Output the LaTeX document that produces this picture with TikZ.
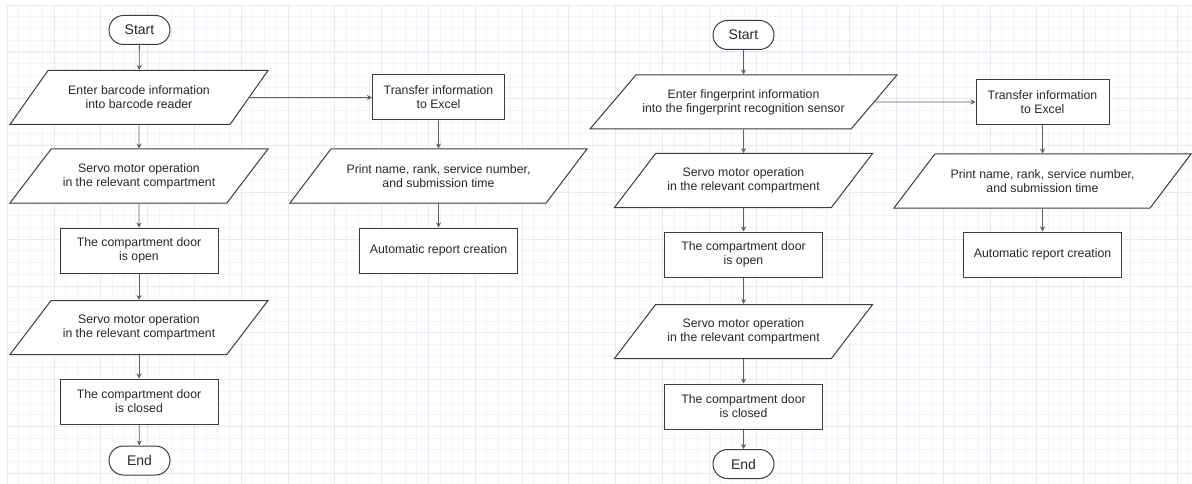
\documentclass[tikz,border=0pt]{standalone}
\usepackage{fontspec}
\setmainfont{Liberation Sans}
\usetikzlibrary{shapes.geometric,arrows.meta}
\definecolor{gridminor}{RGB}{243,243,250}
\definecolor{gridmajor}{RGB}{233,233,246}
\definecolor{shapeline}{RGB}{60,60,60}
\definecolor{flowline}{RGB}{95,95,95}
\definecolor{labeltext}{RGB}{40,40,40}
\begin{document}
\begin{tikzpicture}[
    x=1pt, y=-1pt,
    term/.style={rectangle, rounded corners=14.5pt, draw=shapeline, fill=white, line width=1pt, minimum width=61pt, minimum height=29pt, font=\fontsize{14}{16}\selectfont, text=labeltext},
    proc/.style={rectangle, draw=shapeline, fill=white, line width=1pt, minimum width=158pt, minimum height=45pt, align=center, font=\fontsize{12.3}{14}\selectfont, text=labeltext},
    io/.style={trapezium, trapezium left angle=38, trapezium right angle=142, trapezium stretches body, draw=shapeline, fill=white, line width=1pt, minimum width=258pt, minimum height=54pt, inner xsep=0pt, align=center, font=\fontsize{12.3}{14}\selectfont, text=labeltext},
    wideio/.style={io, trapezium left angle=36, trapezium right angle=144, minimum width=297pt},
    flow/.style={-{Stealth[length=5pt, width=5pt]}, draw=flowline, line width=0.8pt},
]
\useasboundingbox (0,0) rectangle (1192,484);
% background grid
\foreach \gx in {0,...,101} \draw[gridminor, line width=0.5pt] ({7+11.7*\gx},5) -- ({7+11.7*\gx},484);
\foreach \gy in {0,...,41} \draw[gridminor, line width=0.5pt] (7,{5+11.7*\gy}) -- (1192,{5+11.7*\gy});
\foreach \gx in {0,...,25} \draw[gridmajor, line width=0.6pt] ({7+46.8*\gx},5) -- ({7+46.8*\gx},484);
\foreach \gy in {0,...,10} \draw[gridmajor, line width=0.6pt] (7,{5+46.8*\gy}) -- (1192,{5+46.8*\gy});

% barcode flow
\node[term] (bstart) at (139.5,30) {Start};
\node[io] (bread) at (139,97.5) {Enter barcode information\\into barcode reader};
\node[io] (bservo1) at (139,176) {Servo motor operation\\in the relevant compartment};
\node[proc] (bopen) at (139,250.5) {The compartment door\\is open};
\node[io] (bservo2) at (139,327.5) {Servo motor operation\\in the relevant compartment};
\node[proc] (bclose) at (139,401.5) {The compartment door\\is closed};
\node[term] (bend) at (139.5,460.5) {End};
\node[proc, minimum width=132pt] (bexcel) at (438.5,97.5) {Transfer information\\to Excel};
\node[wideio] (bprint) at (438.5,176) {Print name, rank, service number,\\and submission time};
\node[proc] (breport) at (438.5,250.5) {Automatic report creation};
\draw[flow] (bstart) -- (bread);
\draw[flow] (bread) -- (bservo1);
\draw[flow] (bservo1) -- (bopen);
\draw[flow] (bopen) -- (bservo2);
\draw[flow] (bservo2) -- (bclose);
\draw[flow] (bclose) -- (bend);
\draw[flow] (bread.east) -- (bexcel.west);
\draw[flow] (bexcel) -- (bprint);
\draw[flow] (bprint) -- (breport);

% fingerprint flow
\node[term] (fstart) at (743.5,35) {Start};
\node[wideio, minimum width=307pt, trapezium left angle=35, trapezium right angle=145] (fread) at (743.5,102) {Enter fingerprint information\\into the fingerprint recognition sensor};
\node[io] (fservo1) at (743.5,180.5) {Servo motor operation\\in the relevant compartment};
\node[proc] (fopen) at (743.5,254.5) {The compartment door\\is open};
\node[io] (fservo2) at (743.5,331.5) {Servo motor operation\\in the relevant compartment};
\node[proc] (fclose) at (743.5,406.5) {The compartment door\\is closed};
\node[term] (fend) at (743.5,464) {End};
\node[proc, minimum width=133pt] (fexcel) at (1042.5,102) {Transfer information\\to Excel};
\node[wideio] (fprint) at (1042.5,181) {Print name, rank, service number,\\and submission time};
\node[proc] (freport) at (1042.5,254.5) {Automatic report creation};
\draw[flow] (fstart) -- (fread);
\draw[flow] (fread) -- (fservo1);
\draw[flow] (fservo1) -- (fopen);
\draw[flow] (fopen) -- (fservo2);
\draw[flow] (fservo2) -- (fclose);
\draw[flow] (fclose) -- (fend);
\draw[flow] (fread.east) -- (fexcel.west);
\draw[flow] (fexcel) -- (fprint);
\draw[flow] (fprint) -- (freport);
\end{tikzpicture}
\end{document}
